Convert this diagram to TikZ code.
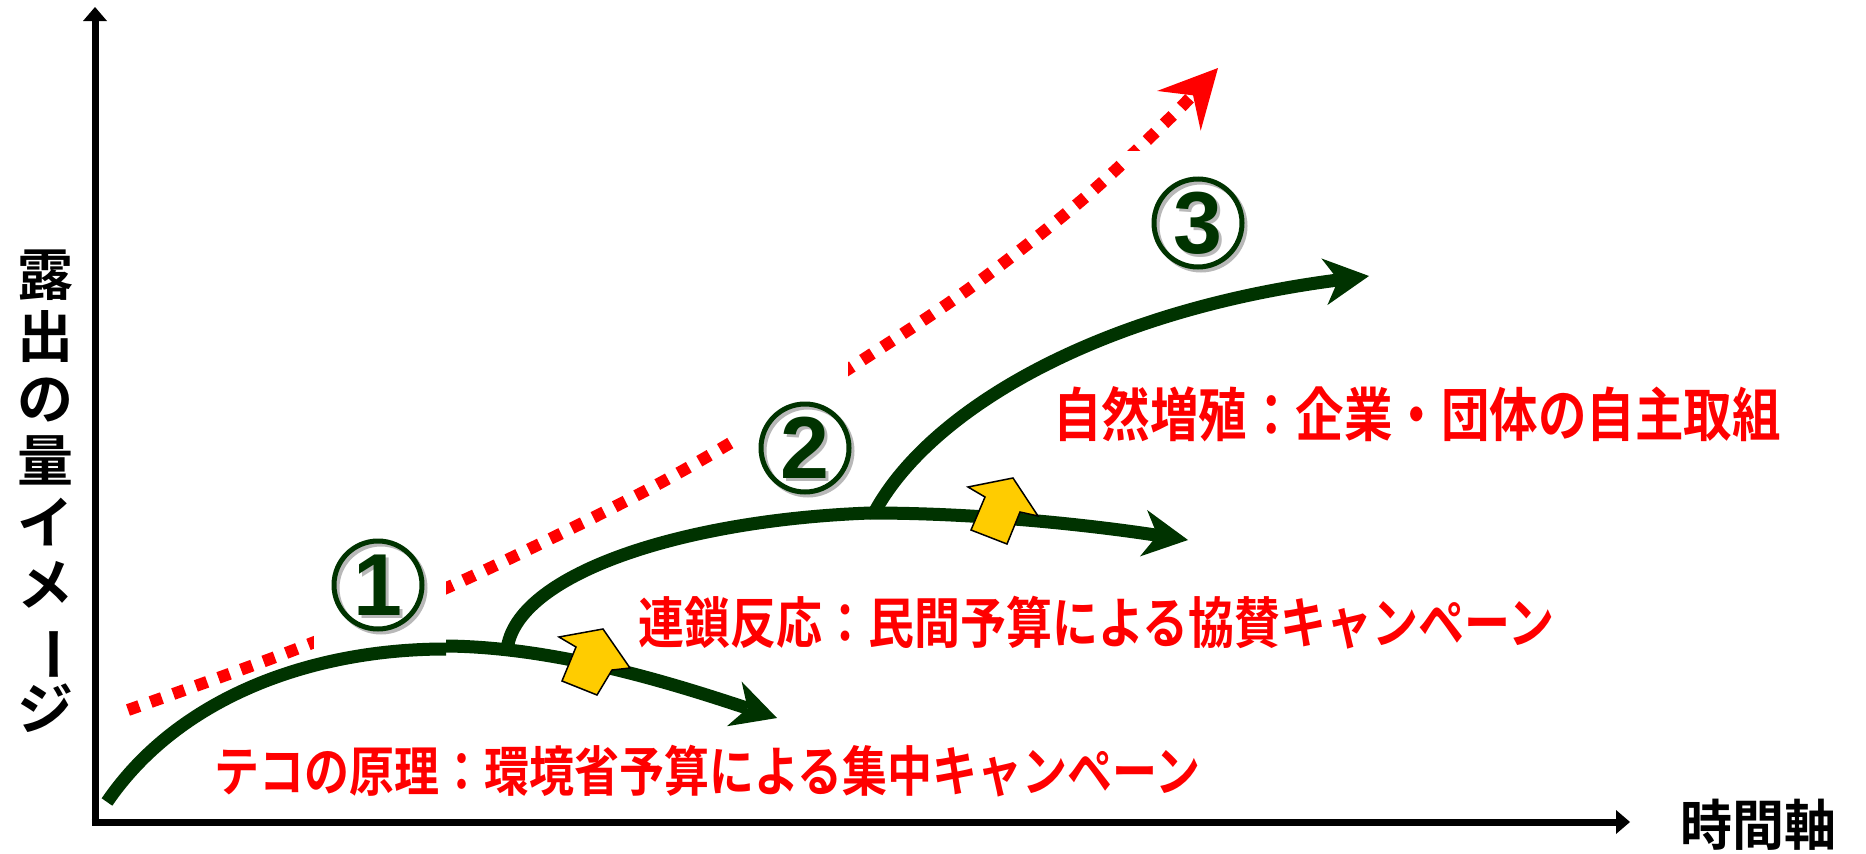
\documentclass[tikz,border=0pt]{standalone}
\usepackage{fontspec}
\usetikzlibrary{arrows.meta}
\newfontfamily\jp{Noto Sans CJK JP}[BoldFont={Noto Sans CJK JP Bold}]
\newfontfamily\digitfont{Liberation Sans}
\definecolor{dgreen}{HTML}{003300}
\definecolor{ylw}{HTML}{FFCC00}
\definecolor{shade}{HTML}{B8B8B8}
\newcommand{\tallbox}[1]{\scalebox{1}[1.2]{#1}}
\begin{document}
\begin{tikzpicture}[x=1pt,y=-1pt,
  axis/.style={line width=7pt, -{Triangle[length=14pt,width=24pt,line width=0pt]}},
  growth/.style={draw=dgreen, line width=13pt},
  growtharrow/.style={growth, -{Stealth[length=45pt,width=47pt,inset=14pt,line width=0pt]}},
  trend/.style={draw=red, line width=12pt, dash pattern=on 12pt off 12pt, -{Stealth[length=58pt,width=59pt,inset=21pt,line width=0pt]}},
  boost/.style={fill=ylw, draw=black, line width=1.5pt, line join=miter},
  mask/.style={fill=white, draw=none},
  ring/.style={draw=dgreen, line width=5pt},
  ringshadow/.style={draw=shade, line width=5pt},
  num/.style={text=dgreen, font={\digitfont\bfseries\fontsize{88pt}{92pt}\selectfont}, inner sep=0pt},
  numshadow/.style={num, text=shade},
  phase/.style={text=red, anchor=base west, inner sep=0pt},
  axislabel/.style={text=black, inner sep=0pt},
]
\useasboundingbox (0,0) rectangle (1866,854);

% axes
\coordinate (O) at (95,822);
\coordinate (ytip) at (95,7);
\coordinate (xtip) at (1630,822);
\draw[axis] ([yshift=-3.5pt]O) -- (ytip);
\draw[axis] ([xshift=-3.5pt]O) -- (xtip);

% red dotted trend
\coordinate (trs) at (128,710);
\coordinate (trt) at (1218,68);
\draw[trend] plot[smooth, tension=0.55] coordinates {(trs) (294,650) (453,585) (622,503) (727,445) (850,368) (970,288) (1082,200) (1170,118) (trt)};

% white boxes behind the circled numbers
\fill[mask] (314,515) rectangle (446,650);
\fill[mask] (735,362) rectangle (848,500);
\fill[mask] (1125,151) rectangle (1270,290);

% green growth curves
\coordinate (c1s) at (107,802);
\coordinate (c1m) at (446,649);
\coordinate (c1n) at (446,646);
\coordinate (c1t) at (777,718);
\coordinate (c2s) at (507,650);
\coordinate (c2m) at (870,513);
\coordinate (c2t) at (1188,540);
\coordinate (c3s) at (873,515);
\coordinate (c3t) at (1369,276);
\draw[growth] (c1s) .. controls (178,698) and (310,649) .. (c1m);
\draw[growtharrow] (c1n) .. controls (560,647) and (680,686) .. (c1t);
\draw[growth] (c2s) .. controls (515,575) and (680,520) .. (c2m);
\draw[growtharrow] (c2m) .. controls (980,513) and (1090,525) .. (c2t);
\draw[growtharrow] (c3s) .. controls (925,415) and (1090,312) .. (c3t);

% yellow block arrows
\draw[boost] (603,629) -- (559,637) -- (576,647) -- (562,681) -- (597,695) -- (612,670) -- (630,668) -- cycle;
\draw[boost] (1013,478) -- (968,487) -- (985,497) -- (971,530) -- (1007,544) -- (1020,512) -- (1038,516) -- cycle;

% circled numbers
\coordinate (n1) at (378,585);
\coordinate (n2) at (805,448);
\coordinate (n3) at (1198,223);
\draw[ringshadow] ([shift={(3,3)}]n1) circle[radius=44pt];
\draw[ring] (n1) circle[radius=44pt];
\node[numshadow] (s1) at ([shift={(3,3)}]n1) {1};
\node[num] (d1) at (n1) {1};
\draw[ringshadow] ([shift={(3,3)}]n2) circle[radius=44pt];
\draw[ring] (n2) circle[radius=44pt];
\node[numshadow] (s2) at ([shift={(3,3)}]n2) {2};
\node[num] (d2) at (n2) {2};
\draw[ringshadow] ([shift={(3,3)}]n3) circle[radius=44pt];
\draw[ring] (n3) circle[radius=44pt];
\node[numshadow] (s3) at ([shift={(3,3)}]n3) {3};
\node[num] (d3) at (n3) {3};

% red labels
\node[phase, font={\jp\bfseries\fontsize{45pt}{50pt}\selectfont}] (t1) at (214,791) {\tallbox{テコの原理：環境省予算による集中キャンペーン}};
\node[phase, font={\jp\bfseries\fontsize{46pt}{50pt}\selectfont}] (t2) at (638,643) {\tallbox{連鎖反応：民間予算による協賛キャンペーン}};
\node[phase, font={\jp\bfseries\fontsize{48.5pt}{52pt}\selectfont}] (t3) at (1053,436) {\tallbox{自然増殖：企業・団体の自主取組}};

% axis labels
\node[axislabel, align=center, font={\jp\bfseries\fontsize{56pt}{62pt}\selectfont}] (ylab) at (45,491) {露\\出\\の\\量\\イ\\メ\\\rotatebox[origin=c]{-90}{ー}\\ジ};
\node[axislabel, anchor=base west, font={\jp\bfseries\fontsize{52pt}{56pt}\selectfont}] (xlab) at (1680,845) {\scalebox{1}[1.05]{時間軸}};
\end{tikzpicture}
\end{document}
